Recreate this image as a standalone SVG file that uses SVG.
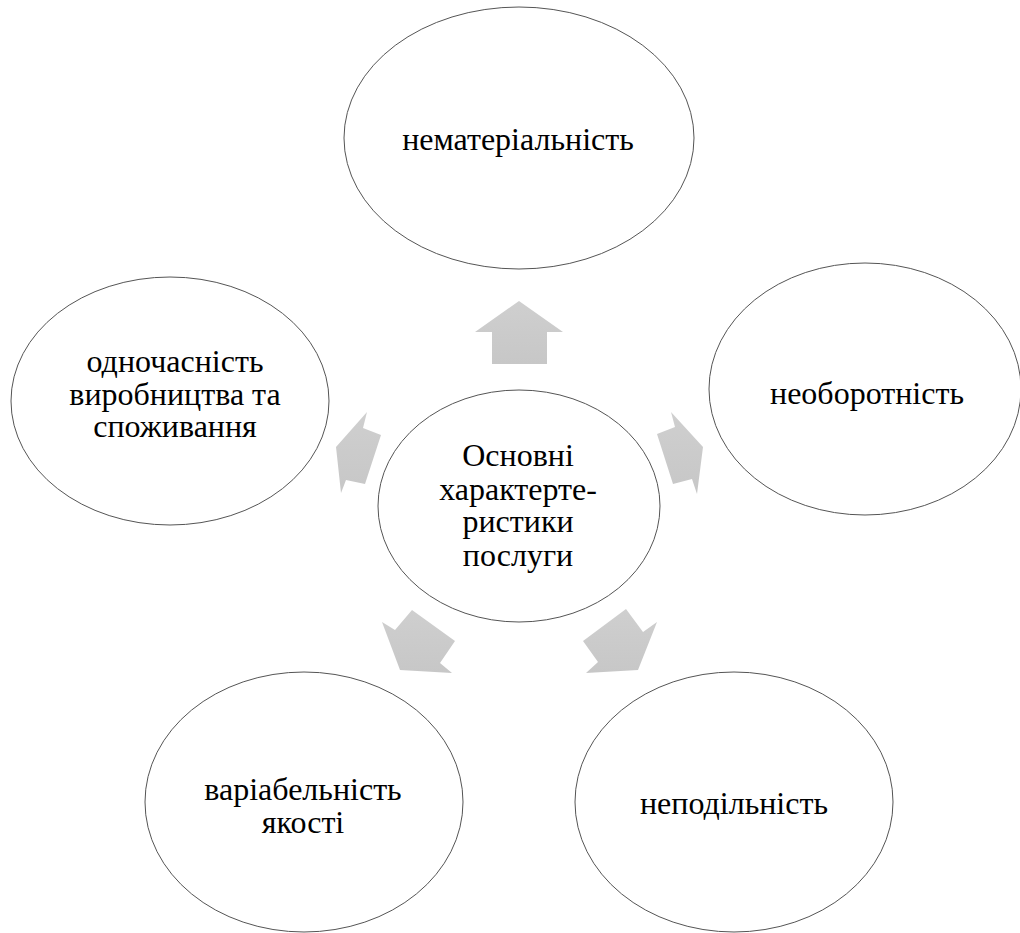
<svg xmlns="http://www.w3.org/2000/svg" width="1020" height="933" viewBox="0 0 1020 933">
<defs>
<linearGradient id="ag" x1="0" y1="0" x2="0" y2="1">
<stop offset="0" stop-color="#cfcfcf"/>
<stop offset="1" stop-color="#c7c7c7"/>
</linearGradient>
</defs>
<style>
.node ellipse{fill:#ffffff;stroke:#555555;stroke-width:1}
.node text{font-family:"Liberation Serif","Times New Roman",serif;font-size:32px;fill:#000000;text-anchor:middle}
.arrow{fill:url(#ag);stroke:none}
</style>
<rect x="0" y="0" width="1020" height="933" fill="#ffffff"/>
<g id="connectors">
<polygon class="arrow" points="519,301 563,332 547,332 547,364 492,364 492,332 475,332"/>
<polygon class="arrow" points="367,412 363,428 381,435 365,484 346,480 341,493 336,447"/>
<polygon class="arrow" points="671,412 703,447 697,494 692,479 673,484 657,434 675,427"/>
<polygon class="arrow" points="412,610 455,641 440,663 452,673 400,670 382,622 395,630"/>
<polygon class="arrow" points="626,609 643,632 657,622 638,670 586,673 598,662 583,641"/>
</g>
<g id="node-top" class="node">
<ellipse cx="519" cy="138" rx="175" ry="131"/>
<text x="518" y="150">нематеріальність</text>
</g>
<g id="node-left" class="node">
<ellipse cx="170" cy="401" rx="159" ry="124"/>
<text x="175" y="372">одночасність</text>
<text x="175" y="405">виробництва та</text>
<text x="175" y="437">споживання</text>
</g>
<g id="node-right" class="node">
<ellipse cx="865" cy="389" rx="156" ry="126"/>
<text x="867" y="404">необоротність</text>
</g>
<g id="node-bottom-left" class="node">
<ellipse cx="304" cy="802" rx="159" ry="130"/>
<text x="303" y="800">варіабельність</text>
<text x="303" y="833">якості</text>
</g>
<g id="node-bottom-right" class="node">
<ellipse cx="734" cy="802" rx="159" ry="130"/>
<text x="734" y="814">неподільність</text>
</g>
<g id="node-center" class="node">
<ellipse cx="519" cy="506" rx="141" ry="116"/>
<text x="518" y="466">Основні</text>
<text x="518" y="500">характерте-</text>
<text x="518" y="532">ристики</text>
<text x="518" y="566">послуги</text>
</g>
</svg>
